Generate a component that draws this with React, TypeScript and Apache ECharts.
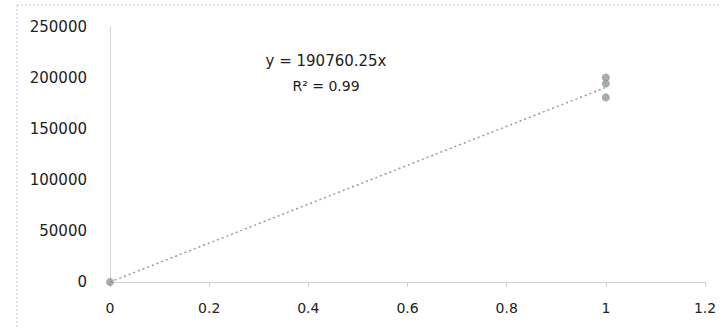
import React, { useEffect, useRef } from "react";
import * as echarts from "echarts";

const xValues = [0, 1, 1, 1];
const yValues = [0, 200500, 194500, 181000];
const slope = 190760.25;
const trendX = [0, 1];
const equationText = "y = 190760.25x";
const r2Text = "R² = 0.99";

export default function App() {
  const ref = useRef<HTMLDivElement>(null);
  useEffect(() => {
    if (!ref.current) return;
    const chart = echarts.init(ref.current, null, { renderer: "svg" });
    const font = "DejaVu Sans, Verdana, sans-serif";
    chart.setOption({
      animation: false,
      backgroundColor: "#fff",
      grid: { left: 110, right: 16, top: 27, bottom: 46 },
      xAxis: {
        type: "value",
        min: 0,
        max: 1.2,
        interval: 0.2,
        axisLine: { show: true, lineStyle: { color: "#cfcfcf", width: 1 } },
        axisTick: { show: true, length: 5, lineStyle: { color: "#cfcfcf" } },
        splitLine: { show: false },
        axisLabel: { color: "#222", fontFamily: font, fontSize: 14, margin: 19 },
      },
      yAxis: {
        type: "value",
        min: 0,
        max: 250000,
        interval: 50000,
        axisLine: { show: true, lineStyle: { color: "#d2d2d2", width: 1 } },
        axisTick: { show: false },
        splitLine: { show: false },
        axisLabel: {
          color: "#222",
          fontFamily: font,
          fontSize: 15,
          margin: 23,
          formatter: (v: number) => String(v),
        },
      },
      graphic: [
        {
          type: "line",
          shape: { x1: 17, y1: 5, x2: 719, y2: 5 },
          style: { stroke: "#c3ced8", lineWidth: 1, lineDash: [2, 2] },
          silent: true,
        },
        {
          type: "line",
          shape: { x1: 17, y1: 5, x2: 17, y2: 328 },
          style: { stroke: "#c3ced8", lineWidth: 1, lineDash: [2, 2] },
          silent: true,
        },
        {
          type: "text",
          x: 326,
          y: 61,
          style: {
            text: equationText,
            fill: "#222",
            font: `15px ${font}`,
            textAlign: "center",
            textVerticalAlign: "middle",
          },
        },
        {
          type: "text",
          x: 326,
          y: 86,
          style: {
            text: r2Text,
            fill: "#222",
            font: `14px ${font}`,
            textAlign: "center",
            textVerticalAlign: "middle",
          },
        },
      ],
      series: [
        {
          type: "line",
          data: trendX.map((x) => [x, x * slope]),
          symbol: "none",
          lineStyle: { color: "#9a9a9a", width: 1.5, type: [2, 3] },
          z: 1,
        },
        {
          type: "scatter",
          data: xValues.map((x, i) => [x, yValues[i]]),
          symbol: "circle",
          symbolSize: 8,
          itemStyle: { color: "#8f979c" },
          z: 2,
        },
      ],
    });
    return () => chart.dispose();
  }, []);
  return (
    <div
      ref={ref}
      style={{ position: "fixed", left: 0, top: 0, width: 721, height: 328 }}
    />
  );
}
